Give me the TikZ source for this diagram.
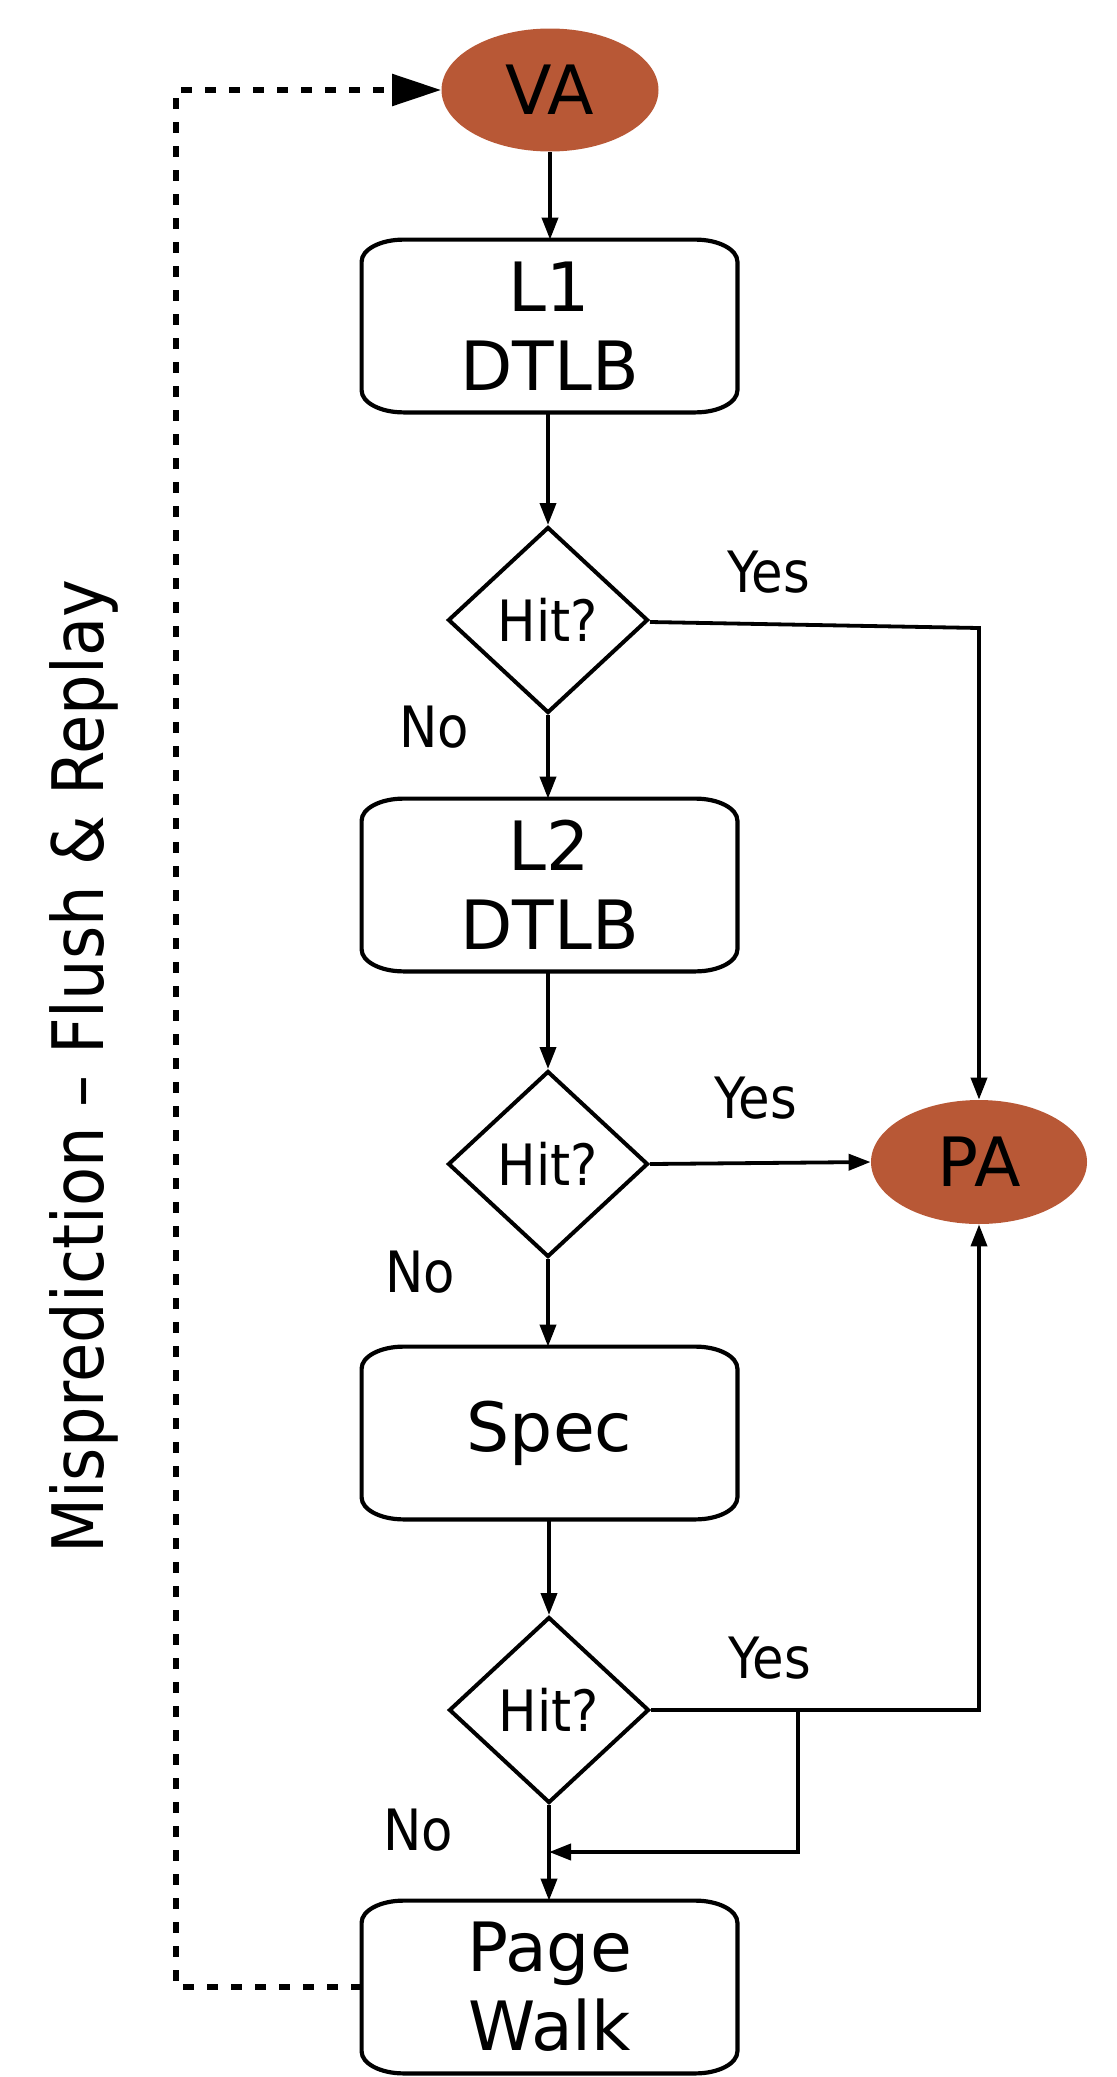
\documentclass[tikz,border=0pt]{standalone}
\usepackage{fontspec}
\setmainfont{DejaVu Sans}
\newfontfamily\condfont{DejaVu Sans Condensed}
\usetikzlibrary{shapes.geometric,arrows.meta,calc}

\definecolor{rust}{RGB}{184,88,54}

\tikzset{
  bigtext/.style={font=\fontsize{34pt}{39.5pt}\selectfont},
  smalltext/.style={font=\condfont\fontsize{28.5pt}{33pt}\selectfont},
  addr/.style={ellipse, fill=rust, draw=none, minimum width=108.5pt,
    minimum height=61.5pt, inner sep=0pt, bigtext},
  tlbbox/.style={rectangle, draw=none, minimum width=187.5pt,
    minimum height=86pt, inner sep=0pt, align=center, bigtext},
  decision/.style={diamond, draw, line width=2pt, minimum width=100pt,
    minimum height=93pt, inner sep=0pt, smalltext},
  flow/.style={line width=1.9pt, -{Triangle[length=11pt,width=8pt]}},
  replay/.style={line width=2.8pt, dash pattern=on 5.5pt off 6.5pt,
    -{Triangle[length=24.5pt,width=15.5pt]}},
  outline/.style={line width=2.1pt},
}

% rounded outline with elliptical corners around a box node
\newcommand\boxoutline[1]{%
  \draw[outline]
    ([xshift=21pt]#1.north west) -- ([xshift=-21pt]#1.north east)
    arc[start angle=90, end angle=0, x radius=21pt, y radius=11pt]
    -- ([yshift=11pt]#1.south east)
    arc[start angle=0, end angle=-90, x radius=21pt, y radius=11pt]
    -- ([xshift=21pt]#1.south west)
    arc[start angle=270, end angle=180, x radius=21pt, y radius=11pt]
    -- ([yshift=-11pt]#1.north west)
    arc[start angle=180, end angle=90, x radius=21pt, y radius=11pt]
    -- cycle;}

\begin{document}
\begin{tikzpicture}[x=0.5pt, y=-0.5pt]
  \useasboundingbox (0,0) rectangle (1117,2077);

  % address nodes
  \node[addr] (va) at (550,90) {VA};
  \node[addr, minimum width=108pt, minimum height=62pt] (pa) at (979,1162) {PA};

  % lookup stages
  \node[tlbbox] (l1) at (549.5,326) {L1\\DTLB};
  \node[tlbbox] (l2) at (549.5,885) {L2\\DTLB};
  \node[tlbbox] (spec) at (549.5,1433) {Spec};
  \node[tlbbox] (pw) at (549.5,1987) {Page\\Walk};
  \boxoutline{l1}
  \boxoutline{l2}
  \boxoutline{spec}
  \boxoutline{pw}

  % hit checks
  \node[decision] (d1) at (548,620) {Hit?};
  \node[decision] (d2) at (548,1164) {Hit?};
  \node[decision] (d3) at (549,1710) {Hit?};

  % main path
  \draw[flow] (va.south) -- (va.south |- l1.north);
  \draw[flow] (l1.south -| d1.north) -- (d1.north);
  \draw[flow] (d1.south) -- (d1.south |- l2.north);
  \draw[flow] (l2.south -| d2.north) -- (d2.north);
  \draw[flow] (d2.south) -- (d2.south |- spec.north);
  \draw[flow] (spec.south -| d3.north) -- (d3.north);
  \draw[flow] (d3.south) -- (d3.south |- pw.north);

  % hits to physical address
  \coordinate (y1turn) at ([yshift=-4pt]pa.north |- d1.east);
  \draw[flow] ([yshift=-1pt]d1.east) -- (y1turn) -- (pa.north);
  \draw[flow] (d2.east) -- (pa.west);
  \draw[flow] (d3.east) -| (pa.south);

  % speculative hit also continues into the walk
  \coordinate (tap) at (798,1710);
  \coordinate (merge) at (549,1852);
  \draw[flow] (tap) |- (merge);

  % flush and replay loop
  \coordinate (loopx) at (176,0);
  \draw[replay] (pw.west) -- (pw.west -| loopx) -- (va.west -| loopx) -- (va.west);

  % branch labels
  \node[smalltext] (yes1) at (769,572) {Yes};
  \node[smalltext] (no1) at (434,727) {No};
  \node[smalltext] (yes2) at (756,1098) {Yes};
  \node[smalltext] (no2) at (420,1272) {No};
  \node[smalltext] (yes3) at (770,1658) {Yes};
  \node[smalltext] (no3) at (418,1830) {No};

  \node[rotate=90, font=\condfont\fontsize{35.5pt}{42pt}\selectfont] (loopnote) at (84,1067)
    {Misprediction – Flush \& Replay};
\end{tikzpicture}
\end{document}
